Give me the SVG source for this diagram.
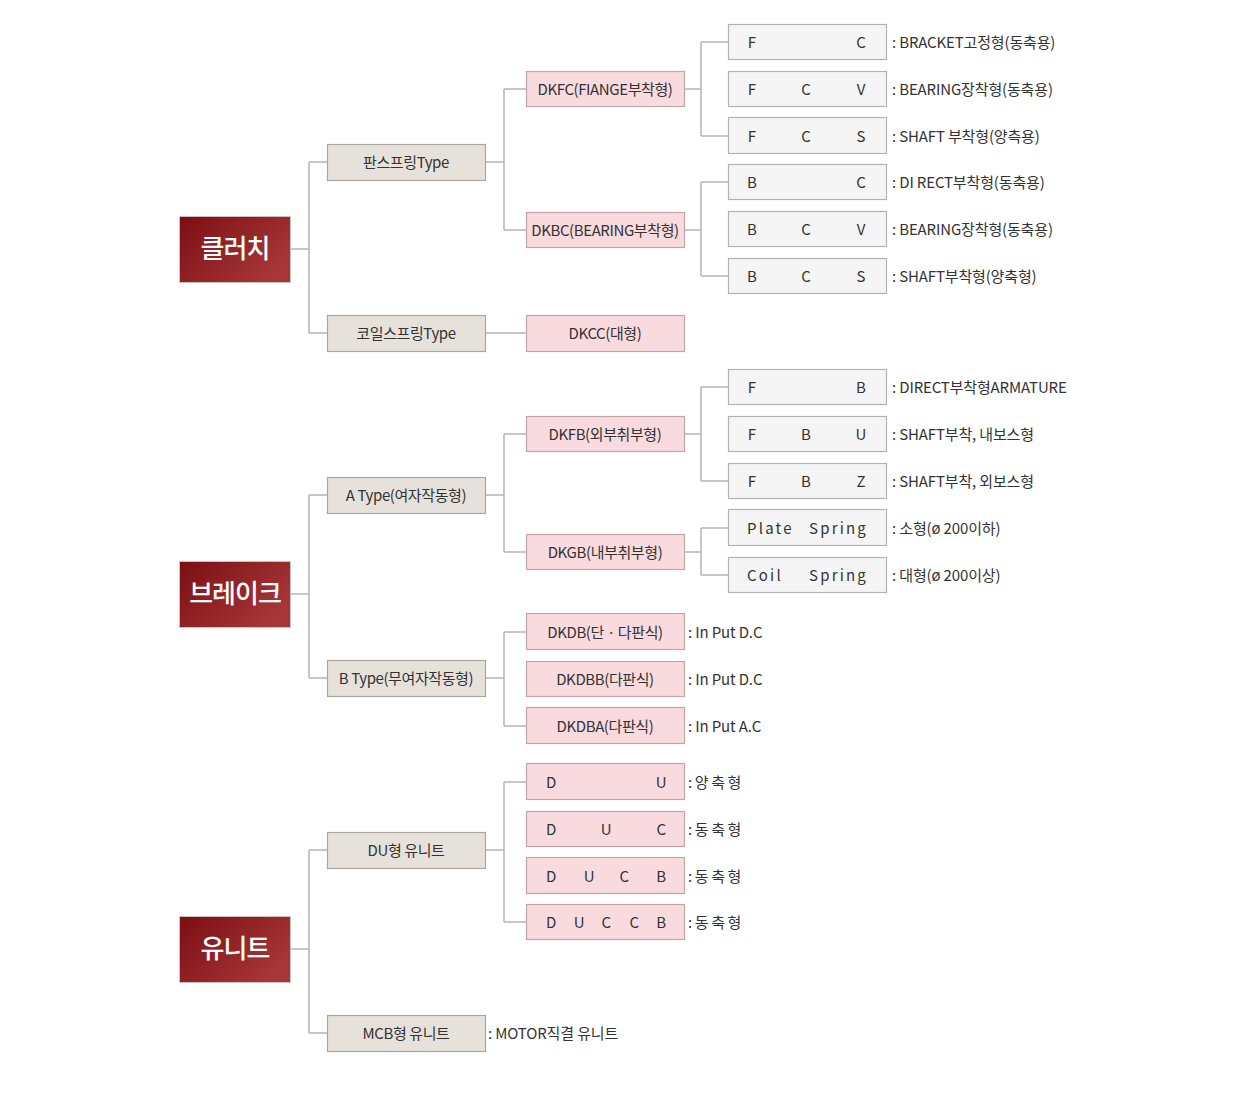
<svg xmlns="http://www.w3.org/2000/svg" width="1260" height="1111" viewBox="0 0 1260 1111">
<defs>
<linearGradient id="rg" x1="0" y1="0" x2="1" y2="0.6">
<stop offset="0" stop-color="#7c0e12"/>
<stop offset="1" stop-color="#a63637"/>
</linearGradient>
<style>
.root rect{fill:url(#rg);stroke:#c9c2c0;stroke-width:1}
.l2 rect{fill:#e7e1dc;stroke:#aca59f;stroke-width:1.2}
.l3 rect{fill:#f9dade;stroke:#c2a6aa;stroke-width:1.2}
.l4 rect{fill:#f5f5f5;stroke:#b2b2b2;stroke-width:1.2}
.conn path{fill:none;stroke:#b5b5b5;stroke-width:1.5}
text{font-family:"Noto Sans CJK KR","Noto Sans",sans-serif;fill:#333}
.root text{fill:#fff;font-size:26px;font-weight:500;text-anchor:middle;letter-spacing:-1px}
.l2 text,.l3 text{font-size:15px;text-anchor:middle;letter-spacing:-0.4px}
.l4 text{font-size:15px;text-anchor:middle}
.l4 text.sp{font-size:15px;letter-spacing:2.2px;text-anchor:start}
.lb{font-size:15px;letter-spacing:-0.15px}
.lw{font-size:15px;letter-spacing:2.6px}
</style>
</defs>
<rect width="1260" height="1111" fill="#fff"/>
<g class="conn">
<path d="M291 249H309M309 162V333M309 162H327M309 333H327"/>
<path d="M485 162H504M504 89V230M504 89H526M504 230H526"/>
<path d="M684 89H701M701 42V136M701 42H728M701 136H728"/>
<path d="M684 230H701M701 182V276M701 182H728M701 276H728"/>
<path d="M485 333H526"/>
<path d="M291 594H309M309 495V678M309 495H327M309 678H327"/>
<path d="M485 495H504M504 434V552M504 434H526M504 552H526"/>
<path d="M684 434H701M701 387V481M701 387H728M701 481H728"/>
<path d="M684 552H701M701 528V575M701 528H728M701 575H728"/>
<path d="M485 678H504M504 632V726M504 632H526M504 726H526"/>
<path d="M291 949H309M309 850V1033M309 850H327M309 1033H327"/>
<path d="M485 850H504M504 782V922M504 782H526M504 922H526"/>
</g>
<g id="n-clutch" class="root"><rect x="179.5" y="216.5" width="111" height="66"/><text x="235" y="258">클러치</text></g>
<g id="n-brake" class="root"><rect x="179.5" y="561.5" width="111" height="66"/><text x="235" y="603">브레이크</text></g>
<g id="n-unit" class="root"><rect x="179.5" y="916.5" width="111" height="66"/><text x="235" y="958">유니트</text></g>

<g id="n-pan" class="l2"><rect x="327.5" y="144.5" width="158" height="36"/><text x="406" y="168">판스프링Type</text></g>
<g id="n-coil" class="l2"><rect x="327.5" y="315.5" width="158" height="36"/><text x="406" y="339">코일스프링Type</text></g>
<g id="n-atype" class="l2"><rect x="327.5" y="477.5" width="158" height="36"/><text x="406" y="501">A Type(여자작동형)</text></g>
<g id="n-btype" class="l2"><rect x="327.5" y="660.5" width="158" height="36"/><text x="406" y="684">B Type(무여자작동형)</text></g>
<g id="n-du" class="l2"><rect x="327.5" y="832.5" width="158" height="36"/><text x="406" y="856">DU형 유니트</text></g>
<g id="n-mcb" class="l2"><rect x="327.5" y="1015.5" width="158" height="36"/><text x="406" y="1039">MCB형 유니트</text></g>
<text class="lb" x="488" y="1039">: MOTOR직결 유니트</text>

<g id="n-dkfc" class="l3"><rect x="526.5" y="71.5" width="158" height="35"/><text x="605" y="95">DKFC(FIANGE부착형)</text></g>
<g id="n-dkbc" class="l3"><rect x="526.5" y="212.5" width="158" height="35"/><text x="605" y="236">DKBC(BEARING부착형)</text></g>
<g id="n-dkcc" class="l3"><rect x="526.5" y="315.5" width="158" height="36"/><text x="605" y="339">DKCC(대형)</text></g>
<g id="n-dkfb" class="l3"><rect x="526.5" y="416.5" width="158" height="35"/><text x="605" y="440">DKFB(외부취부형)</text></g>
<g id="n-dkgb" class="l3"><rect x="526.5" y="534.5" width="158" height="35"/><text x="605" y="558">DKGB(내부취부형)</text></g>
<g id="n-dkdb" class="l3"><rect x="526.5" y="613.5" width="158" height="36"/><text x="605" y="638">DKDB(단 · 다판식)</text></g>
<g id="n-dkdbb" class="l3"><rect x="526.5" y="661.5" width="158" height="35"/><text x="605" y="685">DKDBB(다판식)</text></g>
<g id="n-dkdba" class="l3"><rect x="526.5" y="707.5" width="158" height="36"/><text x="605" y="732">DKDBA(다판식)</text></g>
<g id="n-du1" class="l3"><rect x="526.5" y="763.5" width="158" height="36"/><text y="788"><tspan x="551">D</tspan><tspan x="661">U</tspan></text></g>
<g id="n-du2" class="l3"><rect x="526.5" y="811.5" width="158" height="35"/><text y="835"><tspan x="551">D</tspan><tspan x="606">U</tspan><tspan x="661">C</tspan></text></g>
<g id="n-du3" class="l3"><rect x="526.5" y="857.5" width="158" height="36"/><text y="882"><tspan x="551">D</tspan><tspan x="589">U</tspan><tspan x="624">C</tspan><tspan x="661">B</tspan></text></g>
<g id="n-du4" class="l3"><rect x="526.5" y="904.5" width="158" height="35"/><text y="928"><tspan x="551">D</tspan><tspan x="579">U</tspan><tspan x="606">C</tspan><tspan x="634">C</tspan><tspan x="661">B</tspan></text></g>
<text class="lb" x="688" y="638">: In Put D.C</text>
<text class="lb" x="688" y="685">: In Put D.C</text>
<text class="lb" x="688" y="732">: In Put A.C</text>
<text class="lw" x="688" y="788">:양축형</text>
<text class="lw" x="688" y="835">:동축형</text>
<text class="lw" x="688" y="882">:동축형</text>
<text class="lw" x="688" y="928">:동축형</text>

<g id="n-fc" class="l4"><rect x="728.5" y="24.5" width="158" height="35"/><text y="48"><tspan x="752">F</tspan><tspan x="861">C</tspan></text></g>
<g id="n-fcv" class="l4"><rect x="728.5" y="71.5" width="158" height="35"/><text y="95"><tspan x="752">F</tspan><tspan x="806">C</tspan><tspan x="861">V</tspan></text></g>
<g id="n-fcs" class="l4"><rect x="728.5" y="117.5" width="158" height="36"/><text y="142"><tspan x="752">F</tspan><tspan x="806">C</tspan><tspan x="861">S</tspan></text></g>
<g id="n-bc" class="l4"><rect x="728.5" y="164.5" width="158" height="35"/><text y="188"><tspan x="752">B</tspan><tspan x="861">C</tspan></text></g>
<g id="n-bcv" class="l4"><rect x="728.5" y="211.5" width="158" height="35"/><text y="235"><tspan x="752">B</tspan><tspan x="806">C</tspan><tspan x="861">V</tspan></text></g>
<g id="n-bcs" class="l4"><rect x="728.5" y="258.5" width="158" height="35"/><text y="282"><tspan x="752">B</tspan><tspan x="806">C</tspan><tspan x="861">S</tspan></text></g>
<g id="n-fb" class="l4"><rect x="728.5" y="369.5" width="158" height="35"/><text y="393"><tspan x="752">F</tspan><tspan x="861">B</tspan></text></g>
<g id="n-fbu" class="l4"><rect x="728.5" y="416.5" width="158" height="35"/><text y="440"><tspan x="752">F</tspan><tspan x="806">B</tspan><tspan x="861">U</tspan></text></g>
<g id="n-fbz" class="l4"><rect x="728.5" y="463.5" width="158" height="35"/><text y="487"><tspan x="752">F</tspan><tspan x="806">B</tspan><tspan x="861">Z</tspan></text></g>
<g id="n-plate" class="l4"><rect x="728.5" y="509.5" width="158" height="36"/><text class="sp" y="534"><tspan x="747">Plate</tspan><tspan x="809">Spring</tspan></text></g>
<g id="n-coilsp" class="l4"><rect x="728.5" y="557.5" width="158" height="35"/><text class="sp" y="581"><tspan x="747">Coil</tspan><tspan x="809">Spring</tspan></text></g>

<text class="lb" x="892" y="48">: BRACKET고정형(동축용)</text>
<text class="lb" x="892" y="95">: BEARING장착형(동축용)</text>
<text class="lb" x="892" y="142">: SHAFT 부착형(양측용)</text>
<text class="lb" x="892" y="188">: DI RECT부착형(동축용)</text>
<text class="lb" x="892" y="235">: BEARING장착형(동축용)</text>
<text class="lb" x="892" y="282">: SHAFT부착형(양축형)</text>
<text class="lb" x="892" y="393">: DIRECT부착형ARMATURE</text>
<text class="lb" x="892" y="440">: SHAFT부착, 내보스형</text>
<text class="lb" x="892" y="487">: SHAFT부착, 외보스형</text>
<text class="lb" x="892" y="534">: 소형(ø 200이하)</text>
<text class="lb" x="892" y="581">: 대형(ø 200이상)</text>
</svg>
